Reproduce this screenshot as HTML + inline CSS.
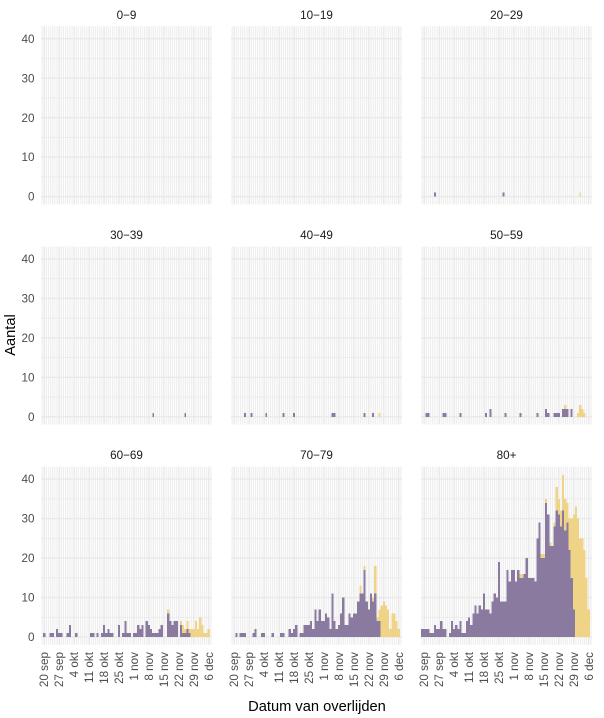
<!DOCTYPE html>
<html><head><meta charset="utf-8"><style>
html,body{margin:0;padding:0;background:#fff;}
svg{display:block;font-family:"Liberation Sans",Arial,sans-serif;}
.p{fill:#8a7a9f;shape-rendering:crispEdges}
.y{fill:#efd488;shape-rendering:crispEdges}
.st{font-size:11.7px;fill:#1a1a1a;text-anchor:middle}
.yt{font-size:11.7px;fill:#4d4d4d;text-anchor:end}
.xt text{font-size:11.7px;fill:#4d4d4d;text-anchor:end}
.at{font-size:14.67px;fill:#000;text-anchor:middle}
</style></head><body>
<svg width="604" height="718" viewBox="0 0 604 718" xmlns="http://www.w3.org/2000/svg">
<defs>
<pattern id="vg" patternUnits="userSpaceOnUse" x="0" y="0" width="1" height="50"><rect x="0.27" y="0" width="0.47" height="50" fill="#ebebeb"/></pattern>
<g id="grid">
<rect x="0" y="-1.95" width="80" height="45.1" fill="url(#vg)"/>
<g fill="#e9e9e9">
<rect x="1.17" y="-1.95" width="0.66" height="45.1"/><rect x="8.17" y="-1.95" width="0.66" height="45.1"/><rect x="15.17" y="-1.95" width="0.66" height="45.1"/><rect x="22.17" y="-1.95" width="0.66" height="45.1"/><rect x="29.17" y="-1.95" width="0.66" height="45.1"/><rect x="36.17" y="-1.95" width="0.66" height="45.1"/><rect x="43.17" y="-1.95" width="0.66" height="45.1"/><rect x="50.17" y="-1.95" width="0.66" height="45.1"/><rect x="57.17" y="-1.95" width="0.66" height="45.1"/><rect x="64.17" y="-1.95" width="0.66" height="45.1"/><rect x="71.17" y="-1.95" width="0.66" height="45.1"/><rect x="78.17" y="-1.95" width="0.66" height="45.1"/>
<rect x="0" y="-0.17" width="80" height="0.34"/><rect x="0" y="9.83" width="80" height="0.34"/><rect x="0" y="19.83" width="80" height="0.34"/><rect x="0" y="29.83" width="80" height="0.34"/><rect x="0" y="39.83" width="80" height="0.34"/>
<rect x="0" y="4.91" width="80" height="0.18"/><rect x="0" y="14.91" width="80" height="0.18"/><rect x="0" y="24.91" width="80" height="0.18"/><rect x="0" y="34.91" width="80" height="0.18"/>
</g>
</g>
</defs>

<text class="st" x="126.5" y="18.8">0−9</text>
<text class="st" x="316.5" y="18.8">10−19</text>
<text class="st" x="506.5" y="18.8">20−29</text>
<text class="st" x="126.5" y="239">30−39</text>
<text class="st" x="316.5" y="239">40−49</text>
<text class="st" x="506.5" y="239">50−59</text>
<text class="st" x="126.5" y="459.2">60−69</text>
<text class="st" x="316.5" y="459.2">70−79</text>
<text class="st" x="506.5" y="459.2">80+</text>

<text class="yt" x="34.5" y="200.7">0</text><text class="yt" x="34.5" y="161.2">10</text><text class="yt" x="34.5" y="121.8">20</text><text class="yt" x="34.5" y="82.3">30</text><text class="yt" x="34.5" y="42.8">40</text>
<text class="yt" x="34.5" y="420.9">0</text><text class="yt" x="34.5" y="381.4">10</text><text class="yt" x="34.5" y="342">20</text><text class="yt" x="34.5" y="302.5">30</text><text class="yt" x="34.5" y="263">40</text>
<text class="yt" x="34.5" y="641.1">0</text><text class="yt" x="34.5" y="601.6">10</text><text class="yt" x="34.5" y="562.2">20</text><text class="yt" x="34.5" y="522.7">30</text><text class="yt" x="34.5" y="483.2">40</text>

<g transform="translate(41,196.6) scale(2.1375,-3.947)"><use href="#grid"/></g>
<g transform="translate(231,196.6) scale(2.1375,-3.947)"><use href="#grid"/></g>
<g transform="translate(421,196.6) scale(2.1375,-3.947)"><use href="#grid"/>
<rect class="y" x="74.05" width=".9" height="1"/>
<rect class="p" x="6.05" width=".9" height="1"/><rect class="p" x="38.05" width=".9" height="1"/>
</g>

<g transform="translate(41,416.8) scale(2.1375,-3.947)"><use href="#grid"/>
<rect class="p" x="52.05" width=".9" height="1"/><rect class="p" x="67.05" width=".9" height="1"/>
</g>
<g transform="translate(231,416.8) scale(2.1375,-3.947)"><use href="#grid"/>
<rect class="y" x="69.05" width=".9" height="1"/>
<rect class="p" x="6.05" width=".9" height="1"/><rect class="p" x="9.05" width=".9" height="1"/><rect class="p" x="16.05" width=".9" height="1"/><rect class="p" x="24.05" width=".9" height="1"/><rect class="p" x="29.05" width=".9" height="1"/><rect class="p" x="47" width="2" height="1"/><rect class="p" x="62.05" width=".9" height="1"/><rect class="p" x="66.05" width=".9" height="1"/>
</g>
<g transform="translate(421,416.8) scale(2.1375,-3.947)"><use href="#grid"/>
<rect class="y" x="67" width="1" height="3"/><rect class="y" x="73" width="1" height="1"/><rect class="y" x="74" width="1" height="3"/><rect class="y" x="75" width="1" height="2"/><rect class="y" x="76" width="1" height="1"/>
<rect class="p" x="2" width="1" height="1"/><rect class="p" x="3" width="1" height="1"/><rect class="p" x="10" width="1" height="1"/><rect class="p" x="11" width="1" height="1"/><rect class="p" x="18.05" width=".9" height="1"/><rect class="p" x="30.05" width=".9" height="1"/><rect class="p" x="32.05" width=".9" height="2"/><rect class="p" x="39.05" width=".9" height="1"/><rect class="p" x="46.05" width=".9" height="1"/><rect class="p" x="54.05" width=".9" height="1"/><rect class="p" x="58" width="1" height="2"/><rect class="p" x="59" width="1" height="1"/><rect class="p" x="62" width="1" height="1"/><rect class="p" x="63" width="1" height="1"/><rect class="p" x="64" width="1" height="1"/><rect class="p" x="66" width="1" height="2"/><rect class="p" x="67" width="1" height="2"/><rect class="p" x="68" width="1" height="2"/><rect class="p" x="70.05" width=".9" height="2"/>
</g>

<g transform="translate(41,637) scale(2.1375,-3.947)"><use href="#grid"/>
<rect class="y" x="59" width="1" height="7"/><rect class="y" x="65" width="1" height="4"/><rect class="y" x="66" width="1" height="3"/><rect class="y" x="67" width="1" height="2"/><rect class="y" x="68" width="1" height="4"/><rect class="y" x="69" width="1" height="2"/><rect class="y" x="70" width="1" height="2"/><rect class="y" x="71" width="1" height="2"/><rect class="y" x="72" width="1" height="4"/><rect class="y" x="73" width="1" height="2"/><rect class="y" x="74" width="1" height="5"/><rect class="y" x="75" width="1" height="3"/><rect class="y" x="76" width="1" height="1"/><rect class="y" x="77" width="1" height="1"/><rect class="y" x="78" width="1" height="2"/>
<rect class="p" x="1" width="1" height="1"/><rect class="p" x="4" width="1" height="1"/><rect class="p" x="5" width="1" height="1"/><rect class="p" x="7" width="1" height="2"/><rect class="p" x="8" width="1" height="1"/><rect class="p" x="9" width="1" height="1"/><rect class="p" x="12" width="1" height="1"/><rect class="p" x="13" width="1" height="3"/><rect class="p" x="16" width="1" height="1"/><rect class="p" x="23" width="1" height="1"/><rect class="p" x="24" width="1" height="1"/><rect class="p" x="26" width="1" height="1"/><rect class="p" x="28" width="1" height="1"/><rect class="p" x="29" width="1" height="3"/><rect class="p" x="30" width="1" height="1"/><rect class="p" x="31" width="1" height="2"/><rect class="p" x="32" width="1" height="1"/><rect class="p" x="33" width="1" height="1"/><rect class="p" x="36" width="1" height="3"/><rect class="p" x="38" width="1" height="1"/><rect class="p" x="39" width="1" height="4"/><rect class="p" x="40" width="1" height="1"/><rect class="p" x="41" width="1" height="1"/><rect class="p" x="43" width="1" height="1"/><rect class="p" x="44" width="1" height="1"/><rect class="p" x="45" width="1" height="3"/><rect class="p" x="46" width="1" height="2"/><rect class="p" x="47" width="1" height="3"/><rect class="p" x="49" width="1" height="4"/><rect class="p" x="50" width="1" height="3"/><rect class="p" x="51" width="1" height="2"/><rect class="p" x="52" width="1" height="1"/><rect class="p" x="53" width="1" height="1"/><rect class="p" x="54" width="1" height="1"/><rect class="p" x="55" width="1" height="2"/><rect class="p" x="56" width="1" height="3"/><rect class="p" x="59" width="1" height="6"/><rect class="p" x="60" width="1" height="4"/><rect class="p" x="61" width="1" height="3"/><rect class="p" x="62" width="1" height="4"/><rect class="p" x="63" width="1" height="4"/><rect class="p" x="65" width="1" height="3"/><rect class="p" x="66" width="1" height="1"/><rect class="p" x="67" width="1" height="1"/><rect class="p" x="68" width="1" height="2"/><rect class="p" x="69" width="1" height="1"/>
</g>
<g transform="translate(231,637) scale(2.1375,-3.947)"><use href="#grid"/>
<rect class="y" x="60" width="1" height="13"/><rect class="y" x="62" width="1" height="18"/><rect class="y" x="66" width="1" height="10"/><rect class="y" x="67" width="1" height="18"/><rect class="y" x="68" width="1" height="5"/><rect class="y" x="69" width="1" height="7"/><rect class="y" x="70" width="1" height="8"/><rect class="y" x="71" width="1" height="9"/><rect class="y" x="72" width="1" height="8"/><rect class="y" x="73" width="1" height="7"/><rect class="y" x="74" width="1" height="2"/><rect class="y" x="75" width="1" height="6"/><rect class="y" x="76" width="1" height="6"/><rect class="y" x="77" width="1" height="4"/><rect class="y" x="78" width="1" height="2"/>
<rect class="p" x="2" width="1" height="1"/><rect class="p" x="4" width="1" height="1"/><rect class="p" x="5" width="1" height="1"/><rect class="p" x="6" width="1" height="1"/><rect class="p" x="10" width="1" height="1"/><rect class="p" x="11" width="1" height="2"/><rect class="p" x="14" width="1" height="1"/><rect class="p" x="15" width="1" height="1"/><rect class="p" x="19" width="1" height="1"/><rect class="p" x="23" width="1" height="1"/><rect class="p" x="24" width="1" height="1"/><rect class="p" x="27" width="1" height="2"/><rect class="p" x="28" width="1" height="1"/><rect class="p" x="29" width="1" height="2"/><rect class="p" x="30" width="1" height="3"/><rect class="p" x="32" width="1" height="1"/><rect class="p" x="33" width="1" height="1"/><rect class="p" x="34" width="1" height="3"/><rect class="p" x="35" width="1" height="3"/><rect class="p" x="36" width="1" height="3"/><rect class="p" x="37" width="1" height="4"/><rect class="p" x="38" width="1" height="2"/><rect class="p" x="39" width="1" height="7"/><rect class="p" x="40" width="1" height="4"/><rect class="p" x="41" width="1" height="7"/><rect class="p" x="42" width="1" height="4"/><rect class="p" x="43" width="1" height="4"/><rect class="p" x="44" width="1" height="6"/><rect class="p" x="45" width="1" height="5"/><rect class="p" x="46" width="1" height="2"/><rect class="p" x="47" width="1" height="11"/><rect class="p" x="48" width="1" height="4"/><rect class="p" x="49" width="1" height="2"/><rect class="p" x="50" width="1" height="3"/><rect class="p" x="51" width="1" height="6"/><rect class="p" x="52" width="1" height="10"/><rect class="p" x="53" width="1" height="3"/><rect class="p" x="54" width="1" height="3"/><rect class="p" x="55" width="1" height="6"/><rect class="p" x="56" width="1" height="5"/><rect class="p" x="57" width="1" height="6"/><rect class="p" x="58" width="1" height="6"/><rect class="p" x="59" width="1" height="9"/><rect class="p" x="60" width="1" height="11"/><rect class="p" x="61" width="1" height="11"/><rect class="p" x="62" width="1" height="17"/><rect class="p" x="63" width="1" height="9"/><rect class="p" x="64" width="1" height="7"/><rect class="p" x="65" width="1" height="11"/><rect class="p" x="66" width="1" height="9"/><rect class="p" x="67" width="1" height="11"/><rect class="p" x="68" width="1" height="4"/><rect class="p" x="69" width="1" height="4"/>
</g>
<g transform="translate(421,637) scale(2.1375,-3.947)"><use href="#grid"/>
<rect class="y" x="46" width="1" height="16"/><rect class="y" x="47" width="1" height="16"/><rect class="y" x="56" width="1" height="21"/><rect class="y" x="57" width="1" height="21"/><rect class="y" x="58" width="1" height="35"/><rect class="y" x="60" width="1" height="24"/><rect class="y" x="62" width="1" height="29"/><rect class="y" x="63" width="1" height="38"/><rect class="y" x="64" width="1" height="35"/><rect class="y" x="65" width="1" height="32"/><rect class="y" x="66" width="1" height="41"/><rect class="y" x="67" width="1" height="35"/><rect class="y" x="68" width="1" height="34"/><rect class="y" x="69" width="1" height="30"/><rect class="y" x="70" width="1" height="30"/><rect class="y" x="71" width="1" height="31"/><rect class="y" x="72" width="1" height="33"/><rect class="y" x="73" width="1" height="30"/><rect class="y" x="74" width="1" height="25"/><rect class="y" x="75" width="1" height="25"/><rect class="y" x="76" width="1" height="22"/><rect class="y" x="77" width="1" height="15"/><rect class="y" x="78" width="1" height="7"/>
<rect class="p" x="0" width="1" height="2"/><rect class="p" x="1" width="1" height="2"/><rect class="p" x="2" width="1" height="2"/><rect class="p" x="3" width="1" height="2"/><rect class="p" x="4" width="1" height="1"/><rect class="p" x="5" width="1" height="1"/><rect class="p" x="6" width="1" height="3"/><rect class="p" x="7" width="1" height="2"/><rect class="p" x="8" width="1" height="2"/><rect class="p" x="9" width="1" height="4"/><rect class="p" x="10" width="1" height="2"/><rect class="p" x="11" width="1" height="2"/><rect class="p" x="13" width="1" height="1"/><rect class="p" x="14" width="1" height="4"/><rect class="p" x="15" width="1" height="2"/><rect class="p" x="16" width="1" height="3"/><rect class="p" x="17" width="1" height="2"/><rect class="p" x="18" width="1" height="4"/><rect class="p" x="19" width="1" height="1"/><rect class="p" x="20" width="1" height="1"/><rect class="p" x="21" width="1" height="4"/><rect class="p" x="22" width="1" height="5"/><rect class="p" x="23" width="1" height="3"/><rect class="p" x="24" width="1" height="6"/><rect class="p" x="25" width="1" height="8"/><rect class="p" x="26" width="1" height="6"/><rect class="p" x="27" width="1" height="8"/><rect class="p" x="28" width="1" height="7"/><rect class="p" x="29" width="1" height="11"/><rect class="p" x="30" width="1" height="7"/><rect class="p" x="31" width="1" height="7"/><rect class="p" x="32" width="1" height="6"/><rect class="p" x="33" width="1" height="9"/><rect class="p" x="34" width="1" height="11"/><rect class="p" x="35" width="1" height="10"/><rect class="p" x="36" width="1" height="19"/><rect class="p" x="37" width="1" height="9"/><rect class="p" x="38" width="1" height="9"/><rect class="p" x="39" width="1" height="9"/><rect class="p" x="40" width="1" height="17"/><rect class="p" x="41" width="1" height="14"/><rect class="p" x="42" width="1" height="17"/><rect class="p" x="43" width="1" height="17"/><rect class="p" x="44" width="1" height="14"/><rect class="p" x="45" width="1" height="17"/><rect class="p" x="46" width="1" height="15"/><rect class="p" x="47" width="1" height="15"/><rect class="p" x="48" width="1" height="16"/><rect class="p" x="49" width="1" height="20"/><rect class="p" x="50" width="1" height="15"/><rect class="p" x="51" width="1" height="15"/><rect class="p" x="52" width="1" height="15"/><rect class="p" x="53" width="1" height="14"/><rect class="p" x="54" width="1" height="25"/><rect class="p" x="55" width="1" height="29"/><rect class="p" x="56" width="1" height="20"/><rect class="p" x="57" width="1" height="20"/><rect class="p" x="58" width="1" height="34"/><rect class="p" x="59" width="1" height="31"/><rect class="p" x="60" width="1" height="23"/><rect class="p" x="61" width="1" height="23"/><rect class="p" x="62" width="1" height="28"/><rect class="p" x="63" width="1" height="32"/><rect class="p" x="64" width="1" height="31"/><rect class="p" x="65" width="1" height="28"/><rect class="p" x="66" width="1" height="32"/><rect class="p" x="67" width="1" height="27"/><rect class="p" x="68" width="1" height="29"/><rect class="p" x="69" width="1" height="22"/><rect class="p" x="70" width="1" height="15"/><rect class="p" x="71" width="1" height="7"/>
</g>

<g class="xt" transform="translate(41,652)">
<text transform="translate(3.2,0) rotate(-90)" dy="0.34em">20 sep</text>
<text transform="translate(18.2,0) rotate(-90)" dy="0.34em">27 sep</text>
<text transform="translate(33.1,0) rotate(-90)" dy="0.34em">4 okt</text>
<text transform="translate(48.1,0) rotate(-90)" dy="0.34em">11 okt</text>
<text transform="translate(63.1,0) rotate(-90)" dy="0.34em">18 okt</text>
<text transform="translate(78,0) rotate(-90)" dy="0.34em">25 okt</text>
<text transform="translate(93,0) rotate(-90)" dy="0.34em">1 nov</text>
<text transform="translate(107.9,0) rotate(-90)" dy="0.34em">8 nov</text>
<text transform="translate(122.9,0) rotate(-90)" dy="0.34em">15 nov</text>
<text transform="translate(137.9,0) rotate(-90)" dy="0.34em">22 nov</text>
<text transform="translate(152.8,0) rotate(-90)" dy="0.34em">29 nov</text>
<text transform="translate(167.8,0) rotate(-90)" dy="0.34em">6 dec</text>
</g>
<g class="xt" transform="translate(231,652)">
<text transform="translate(3.2,0) rotate(-90)" dy="0.34em">20 sep</text>
<text transform="translate(18.2,0) rotate(-90)" dy="0.34em">27 sep</text>
<text transform="translate(33.1,0) rotate(-90)" dy="0.34em">4 okt</text>
<text transform="translate(48.1,0) rotate(-90)" dy="0.34em">11 okt</text>
<text transform="translate(63.1,0) rotate(-90)" dy="0.34em">18 okt</text>
<text transform="translate(78,0) rotate(-90)" dy="0.34em">25 okt</text>
<text transform="translate(93,0) rotate(-90)" dy="0.34em">1 nov</text>
<text transform="translate(107.9,0) rotate(-90)" dy="0.34em">8 nov</text>
<text transform="translate(122.9,0) rotate(-90)" dy="0.34em">15 nov</text>
<text transform="translate(137.9,0) rotate(-90)" dy="0.34em">22 nov</text>
<text transform="translate(152.8,0) rotate(-90)" dy="0.34em">29 nov</text>
<text transform="translate(167.8,0) rotate(-90)" dy="0.34em">6 dec</text>
</g>
<g class="xt" transform="translate(421,652)">
<text transform="translate(3.2,0) rotate(-90)" dy="0.34em">20 sep</text>
<text transform="translate(18.2,0) rotate(-90)" dy="0.34em">27 sep</text>
<text transform="translate(33.1,0) rotate(-90)" dy="0.34em">4 okt</text>
<text transform="translate(48.1,0) rotate(-90)" dy="0.34em">11 okt</text>
<text transform="translate(63.1,0) rotate(-90)" dy="0.34em">18 okt</text>
<text transform="translate(78,0) rotate(-90)" dy="0.34em">25 okt</text>
<text transform="translate(93,0) rotate(-90)" dy="0.34em">1 nov</text>
<text transform="translate(107.9,0) rotate(-90)" dy="0.34em">8 nov</text>
<text transform="translate(122.9,0) rotate(-90)" dy="0.34em">15 nov</text>
<text transform="translate(137.9,0) rotate(-90)" dy="0.34em">22 nov</text>
<text transform="translate(152.8,0) rotate(-90)" dy="0.34em">29 nov</text>
<text transform="translate(167.8,0) rotate(-90)" dy="0.34em">6 dec</text>
</g>

<text class="at" transform="translate(15,335) rotate(-90)">Aantal</text>
<text class="at" x="317" y="711">Datum van overlijden</text>
</svg>
</body></html>
